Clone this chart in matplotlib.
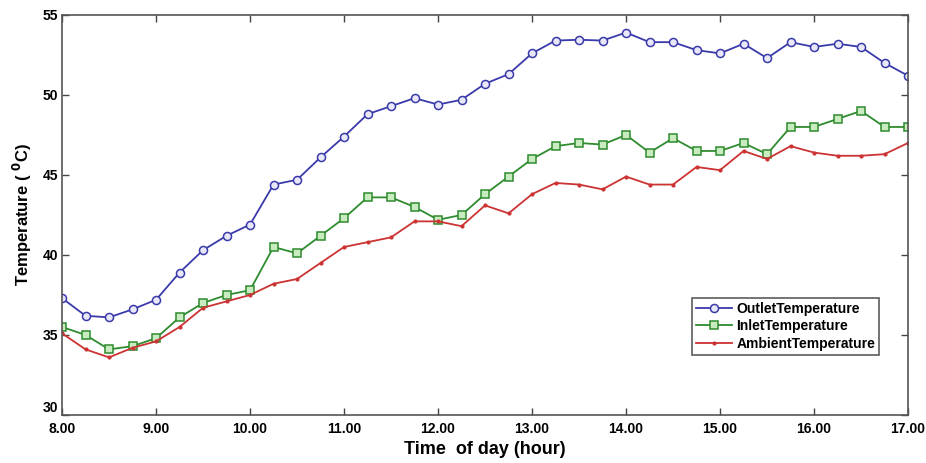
import numpy as np
import matplotlib
matplotlib.use('Agg')
import matplotlib.pyplot as plt

plt.rcParams['font.family'] = ['Liberation Sans', 'DejaVu Sans']
plt.rcParams['font.weight'] = 'bold'

# time of day, 15 min steps from 8.00 to 17.00
hours = np.arange(8.0, 17.01, 0.25)

outlet = [37.3, 36.2, 36.1, 36.6, 37.2, 38.9, 40.3, 41.2, 41.9, 44.4,
          44.7, 46.1, 47.4, 48.8, 49.3, 49.8, 49.4, 49.7, 50.7, 51.3,
          52.6, 53.4, 53.45, 53.4, 53.9, 53.3, 53.3, 52.8, 52.6, 53.2,
          52.3, 53.3, 53.0, 53.2, 53.0, 52.0, 51.2]
inlet = [35.5, 35.0, 34.1, 34.3, 34.8, 36.1, 37.0, 37.5, 37.8, 40.5,
         40.1, 41.2, 42.3, 43.6, 43.6, 43.0, 42.2, 42.5, 43.8, 44.9,
         46.0, 46.8, 47.0, 46.9, 47.5, 46.4, 47.3, 46.5, 46.5, 47.0,
         46.3, 48.0, 48.0, 48.5, 49.0, 48.0, 48.0]
ambient = [35.1, 34.1, 33.6, 34.2, 34.6, 35.5, 36.7, 37.1, 37.5, 38.2,
           38.5, 39.5, 40.5, 40.8, 41.1, 42.1, 42.1, 41.8, 43.1, 42.6,
           43.8, 44.5, 44.4, 44.1, 44.9, 44.4, 44.4, 45.5, 45.3, 46.5,
           46.0, 46.8, 46.4, 46.2, 46.2, 46.3, 47.0]

xticks = np.arange(8, 18, 1)
xticklabels = ['%.2f' % t for t in xticks]
yticks = np.arange(30, 56, 5)

fig = plt.figure(figsize=(9.26, 4.63), dpi=100)
ax = fig.add_axes([0.067, 0.1037, 0.9136, 0.864])

ax.plot(hours, outlet, color='#3a3aaa', lw=1.3, marker='o', ms=5.8,
        mfc='#e8e8f8', mec='#3a3aaa', mew=1.1, label='OutletTemperature')
ax.plot(hours, inlet, color='#2e8b2e', lw=1.3, marker='s', ms=5.5,
        mfc='#c8ecc0', mec='#2e8b2e', mew=1.1, label='InletTemperature')
ax.plot(hours, ambient, color='#cc3333', lw=1.3, marker='.', ms=4,
        mfc='#cc3333', mec='#cc3333', label='AmbientTemperature')

ax.set_xlim(8, 17)
ax.set_ylim(30, 55)
ax.set_xticks(xticks)
ax.set_xticklabels(xticklabels, fontsize=10, fontweight='bold')
ax.set_yticks(yticks)
ax.set_yticklabels([str(v) for v in yticks], fontsize=10, fontweight='bold')
ax.tick_params(direction='in', top=True, right=True, length=5, width=1, color='#444444', pad=3)
ax.tick_params(axis='x', pad=5)
# lift the bottom y label a little so it clears the first x label
ax.get_yticklabels()[0].set_verticalalignment('bottom')
for s in ax.spines.values():
    s.set_color('#555555')
    s.set_linewidth(1.2)

ax.set_xlabel('Time  of day (hour)', fontsize=13, fontweight='bold', labelpad=4)
ax.set_ylabel('Temperature ( $\\mathbf{^{0}}$C)', fontsize=12, fontweight='bold', labelpad=6)

leg = ax.legend(loc='lower right', bbox_to_anchor=(0.966, 0.15), fontsize=10,
                frameon=True, fancybox=False, edgecolor='#333333',
                handlelength=2.6, borderpad=0.3, labelspacing=0.25, handletextpad=0.3,
                borderaxespad=0)
leg.get_frame().set_linewidth(1.2)
for t in leg.get_texts():
    t.set_fontweight('bold')

fig.savefig('out.png', dpi=100)
